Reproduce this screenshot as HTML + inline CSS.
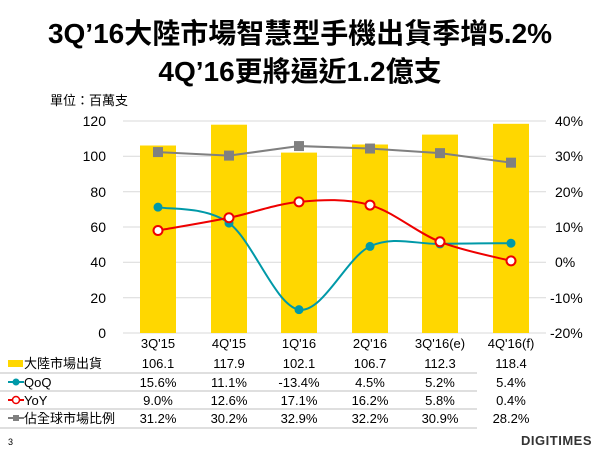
<!DOCTYPE html>
<html><head><meta charset="utf-8"><style>
body{margin:0;background:#fff;width:600px;height:450px;overflow:hidden}
svg text{font-family:"Liberation Sans","Noto Sans CJK TC",sans-serif}
</style></head><body>
<svg width="600" height="450" xmlns="http://www.w3.org/2000/svg">
<text x="300" y="43" text-anchor="middle" font-size="28" font-weight="bold">3Q’16大陸市場智慧型手機出貨季增5.2%</text>
<text x="300" y="81" text-anchor="middle" font-size="28" font-weight="bold">4Q’16更將逼近1.2億支</text>
<text x="50" y="105" font-size="13">單位：百萬支</text>
<g stroke="#d9d9d9" stroke-width="1">
<line x1="123" x2="546" y1="121" y2="121"/><line x1="123" x2="546" y1="156.3" y2="156.3"/><line x1="123" x2="546" y1="191.7" y2="191.7"/><line x1="123" x2="546" y1="227" y2="227"/><line x1="123" x2="546" y1="262.3" y2="262.3"/><line x1="123" x2="546" y1="297.7" y2="297.7"/><line x1="123" x2="546" y1="333" y2="333"/>
</g>
<g font-size="14" text-anchor="end">
<text x="106" y="126">120</text><text x="106" y="161">100</text><text x="106" y="197">80</text><text x="106" y="232">60</text><text x="106" y="267">40</text><text x="106" y="303">20</text><text x="106" y="338">0</text>
</g>
<g font-size="14">
<text x="555" y="126">40%</text><text x="555" y="161">30%</text><text x="555" y="197">20%</text><text x="555" y="232">10%</text><text x="555" y="267">0%</text><text x="550" y="303">-10%</text><text x="550" y="338">-20%</text>
</g>
<g fill="#ffd700">
<rect x="140" y="145.5" width="36" height="187.5"/><rect x="211" y="124.7" width="36" height="208.3"/><rect x="281" y="152.6" width="36" height="180.4"/><rect x="352" y="144.5" width="36" height="188.5"/><rect x="422" y="134.6" width="36" height="198.4"/><rect x="493" y="123.8" width="36" height="209.2"/>
</g>
<g id="lines"></g>
<g font-size="13" text-anchor="middle">
<text x="158" y="348">3Q'15</text><text x="229" y="348">4Q'15</text><text x="299" y="348">1Q'16</text><text x="370" y="348">2Q'16</text><text x="440" y="348">3Q'16(e)</text><text x="511" y="348">4Q'16(f)</text>
</g>
<g stroke="#bfbfbf"><line x1="0" x2="477" y1="373" y2="373"/><line x1="0" x2="477" y1="391" y2="391"/><line x1="0" x2="477" y1="409" y2="409"/><line x1="0" x2="477" y1="428" y2="428"/></g>
<rect x="8" y="360" width="15" height="7" fill="#ffd700"/>
<line x1="8" x2="24" y1="382" y2="382" stroke="#0099a8" stroke-width="2"/><circle cx="16" cy="382" r="3.5" fill="#0099a8"/>
<line x1="8" x2="24" y1="400" y2="400" stroke="#ee0000" stroke-width="2"/><circle cx="16" cy="400" r="3.5" fill="#fff" stroke="#ee0000" stroke-width="1.5"/>
<line x1="8" x2="24" y1="418" y2="418" stroke="#808080" stroke-width="2"/><rect x="13" y="415" width="6" height="6" fill="#808080"/>
<g font-size="13">
<text x="24" y="368">大陸市場出貨</text><text x="24" y="387">QoQ</text><text x="24" y="405">YoY</text><text x="24" y="423">佔全球市場比例</text>
</g>
<g font-size="13" text-anchor="middle" id="tbl"></g>
<text x="8" y="445" font-size="9">3</text>
<text x="592" y="445" text-anchor="end" font-size="13" font-weight="bold" fill="#333" letter-spacing="0.5">DIGITIMES</text>
</svg>
<script>
var xs=[158,229,299,370,440,511];
function yR(p){return 262.3-p*3.533;}
var qoq=[15.6,11.1,-13.4,4.5,5.2,5.4],yoy=[9.0,12.6,17.1,16.2,5.8,0.4],sh=[31.2,30.2,32.9,32.2,30.9,28.2];
function path(v,smooth){var p=v.map(function(a,i){return [xs[i],yR(a)];});var d="M"+p[0];
for(var i=0;i<p.length-1;i++){if(!smooth){d+=" L"+p[i+1];continue;}
var p0=p[i-1]||p[i],p1=p[i],p2=p[i+1],p3=p[i+2]||p2,t=6;
d+=" C"+(p1[0]+(p2[0]-p0[0])/t)+","+(p1[1]+(p2[1]-p0[1])/t)+" "+(p2[0]-(p3[0]-p1[0])/t)+","+(p2[1]-(p3[1]-p1[1])/t)+" "+p2;}return d;}
var g=document.getElementById("lines"),h="";
h+='<path d="'+path(sh,false)+'" fill="none" stroke="#808080" stroke-width="2"/>';
h+='<path d="'+path(qoq,true)+'" fill="none" stroke="#0099a8" stroke-width="2"/>';
h+='<path d="'+path(yoy,true)+'" fill="none" stroke="#ee0000" stroke-width="2"/>';
xs.forEach(function(x,i){
h+='<rect x="'+(x-5)+'" y="'+(yR(sh[i])-5)+'" width="10" height="10" fill="#808080"/>';
h+='<circle cx="'+x+'" cy="'+yR(qoq[i])+'" r="4.5" fill="#0099a8"/>';
h+='<circle cx="'+x+'" cy="'+yR(yoy[i])+'" r="4.5" fill="#fff" stroke="#ee0000" stroke-width="2"/>';});
g.innerHTML=h;
var rows=[["106.1","117.9","102.1","106.7","112.3","118.4"],["15.6%","11.1%","-13.4%","4.5%","5.2%","5.4%"],["9.0%","12.6%","17.1%","16.2%","5.8%","0.4%"],["31.2%","30.2%","32.9%","32.2%","30.9%","28.2%"]];
var ys=[368,387,405,423],t="";
rows.forEach(function(r,j){r.forEach(function(v,i){t+='<text x="'+xs[i]+'" y="'+ys[j]+'">'+v+'</text>';});});
document.getElementById("tbl").innerHTML=t;
</script>
</body></html>
